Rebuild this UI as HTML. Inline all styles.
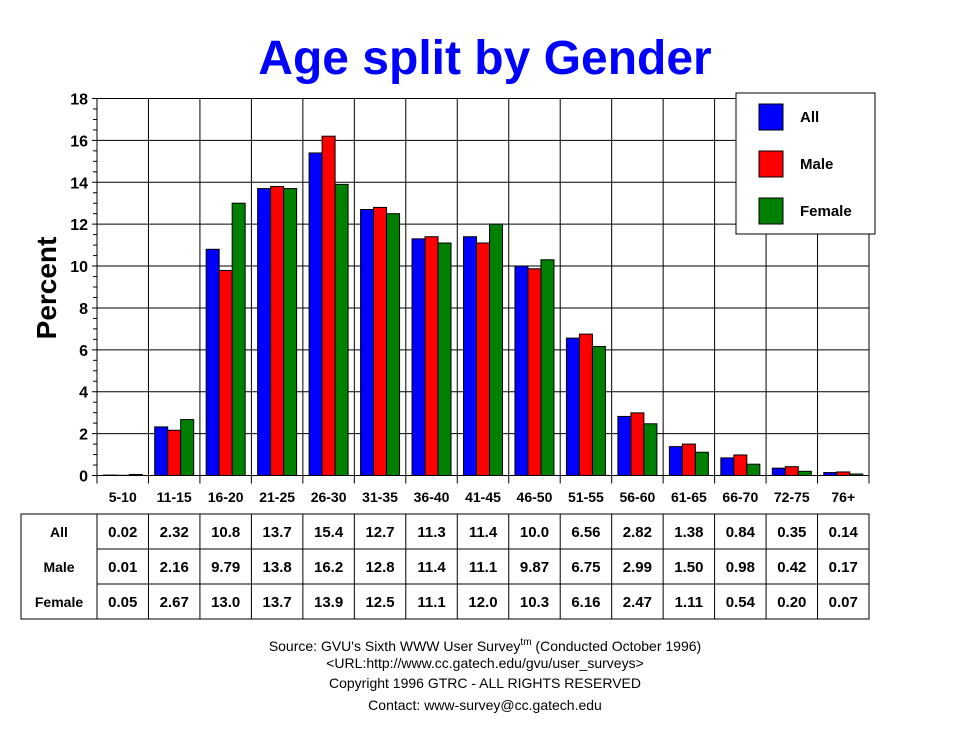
<!DOCTYPE html>
<html><head><meta charset="utf-8"><style>
body{margin:0;background:#fff;}
svg text{font-family:"Liberation Sans",Arial,sans-serif;}
</style></head><body>
<svg id="c" width="970" height="736" xmlns="http://www.w3.org/2000/svg">
<text x="485" y="74" text-anchor="middle" font-size="48" font-weight="bold" fill="#0000ff">Age split by Gender</text>
<text transform="translate(56,288) rotate(-90)" text-anchor="middle" font-size="28" font-weight="bold">Percent</text>
<g id="grid"></g><g id="bars"></g><g id="axes" font-weight="bold"></g><g id="table" font-weight="bold"></g>
<g>
<rect x="736" y="93" width="139" height="141" fill="#fff" stroke="#000"/>
<g id="legend" font-weight="bold"></g>
</g>
<g font-size="14" text-anchor="middle">
<text x="485" y="651">Source: GVU's Sixth WWW User Survey<tspan font-size="10" dy="-6">tm</tspan><tspan dy="6">  (Conducted October 1996)</tspan></text>
<text x="485" y="668">&lt;URL:http://www.cc.gatech.edu/gvu/user_surveys&gt;</text>
<text x="485" y="688">Copyright 1996 GTRC -  ALL RIGHTS RESERVED</text>
<text x="485" y="710">Contact: www-survey@cc.gatech.edu</text>
</g>
</svg>
<script>
const categories=["5-10","11-15","16-20","21-25","26-30","31-35","36-40","41-45","46-50","51-55","56-60","61-65","66-70","72-75","76+"];
const seriesNames=["All","Male","Female"];
const allValues=[0.02,2.32,10.8,13.7,15.4,12.7,11.3,11.4,10.0,6.56,2.82,1.38,0.84,0.35,0.14];
const maleValues=[0.01,2.16,9.79,13.8,16.2,12.8,11.4,11.1,9.87,6.75,2.99,1.50,0.98,0.42,0.17];
const femaleValues=[0.05,2.67,13.0,13.7,13.9,12.5,11.1,12.0,10.3,6.16,2.47,1.11,0.54,0.20,0.07];
const allLabels=["0.02","2.32","10.8","13.7","15.4","12.7","11.3","11.4","10.0","6.56","2.82","1.38","0.84","0.35","0.14"];
const maleLabels=["0.01","2.16","9.79","13.8","16.2","12.8","11.4","11.1","9.87","6.75","2.99","1.50","0.98","0.42","0.17"];
const femaleLabels=["0.05","2.67","13.0","13.7","13.9","12.5","11.1","12.0","10.3","6.16","2.47","1.11","0.54","0.20","0.07"];
const yTicks=[0,2,4,6,8,10,12,14,16,18];
const colors=["#0000ff","#ff0000","#008000"];

const L=97,R=869,T=98.5,B=475.5,yMax=18;
const NS="http://www.w3.org/2000/svg";
const cw=(R-L)/categories.length;
const y=v=>B-(v/yMax)*(B-T);
const xc=i=>L+i*cw;
function mk(parent,tag,attrs,txt){const e=document.createElementNS(NS,tag);for(const k in attrs)e.setAttribute(k,attrs[k]);if(txt!==undefined)e.textContent=txt;document.getElementById(parent).appendChild(e);return e;}

yTicks.forEach(t=>{
 const g=mk('grid','line',{x1:L-5,x2:R,y1:y(t),y2:y(t),stroke:'#000'});
 
 
 const tl=mk('axes','text',{x:L-9,y:y(t)+6,'text-anchor':'end','font-size':16},String(t));
 
 
});
for(let v=0.5;v<yMax;v+=0.5){if(v%2!==0)mk('axes','line',{x1:L-4,x2:L,y1:y(v),y2:y(v),stroke:'#000'});}
for(let i=0;i<=categories.length;i++){
 const g=mk('grid','line',{x1:xc(i),x2:xc(i),y1:T,y2:B+8,stroke:'#000'});
 
 
}
mk('axes','line',{x1:L,x2:L,y1:T,y2:B,stroke:'#000'});
const series=[allValues,maleValues,femaleValues];
const bw=13,off=(cw-3*bw)/2;
categories.forEach((c,i)=>{
 series.forEach((s,k)=>{
  const r=mk('bars','rect',{x:xc(i)+off+k*bw,y:y(s[i]),width:bw,height:B-y(s[i]),fill:colors[k],stroke:'#000','stroke-width':1});
  
  
 });
 const t=mk('axes','text',{x:xc(i)+cw/2,y:502,'text-anchor':'middle','font-size':14},c);
 
 
});
const tT=514,rh=35;
mk('table','rect',{x:21,y:tT,width:R-21,height:rh*3,fill:'none',stroke:'#000'});
for(let r=1;r<3;r++)mk('table','line',{x1:L,x2:R,y1:tT+r*rh,y2:tT+r*rh,stroke:'#000'});
for(let i=0;i<categories.length;i++)mk('table','line',{x1:xc(i),x2:xc(i),y1:tT,y2:tT+3*rh,stroke:'#000'});
const labelRows=[allLabels,maleLabels,femaleLabels];
seriesNames.forEach((n,r)=>{
 const h=mk('table','text',{x:59,y:tT+r*rh+23,'text-anchor':'middle','font-size':14},n);
 
 
 labelRows[r].forEach((v,i)=>{
  const t=mk('table','text',{x:xc(i)+cw/2,y:tT+r*rh+23,'text-anchor':'middle','font-size':15},v);
  
  
 });
});
seriesNames.forEach((n,k)=>{
 const yy=104+k*47;
 const s=mk('legend','rect',{x:759,y:yy,width:24,height:26,fill:colors[k],stroke:'#000'});
 
 
 const t=mk('legend','text',{x:800,y:yy+18,'font-size':15},n);
 
 
});
</script>
</body></html>
